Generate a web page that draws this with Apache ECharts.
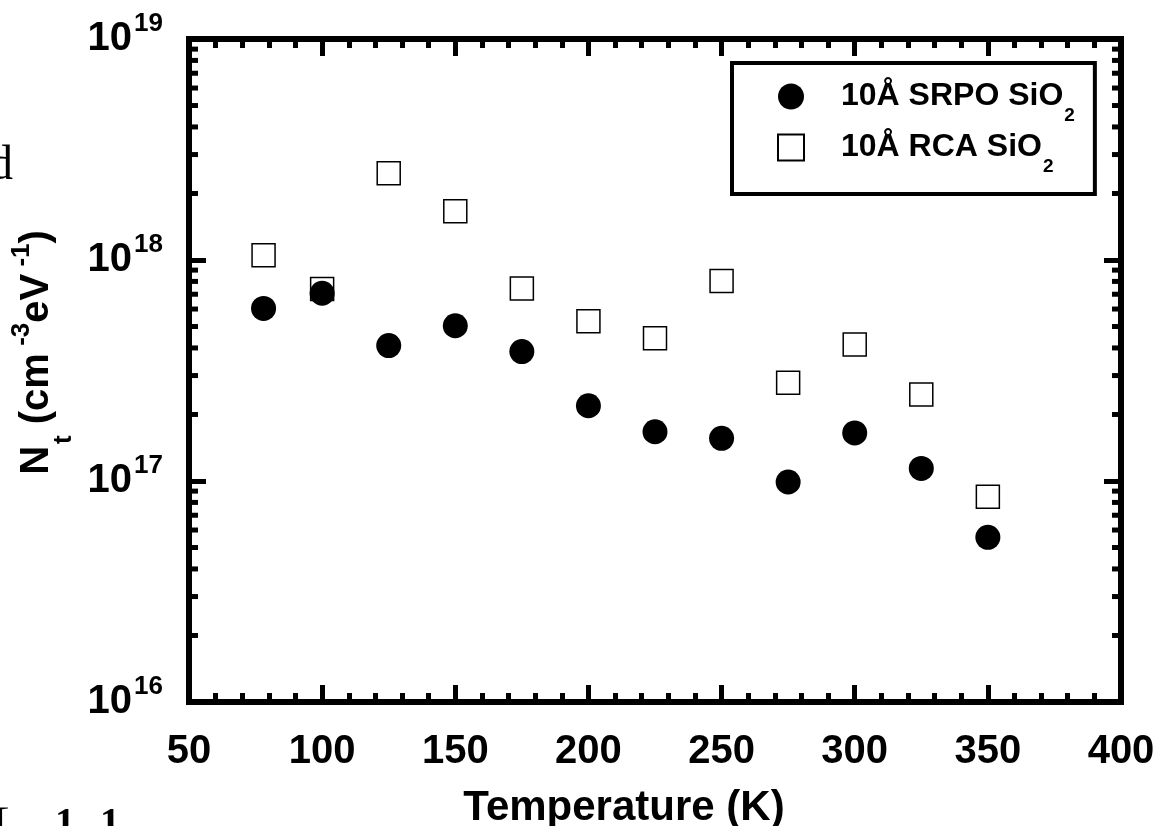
<!DOCTYPE html>
<html><head><meta charset="utf-8">
<script src="https://cdn.jsdelivr.net/npm/echarts@6/dist/echarts.min.js"></script>
<style>html,body{margin:0;padding:0;background:#fff}#c{width:1168px;height:826px}</style>
</head><body><div id="c"></div>
<script>
// ---- data ----
const temperatures = [78, 100, 125, 150, 175, 200, 225, 250, 275, 300, 325, 350];
const srpoValues = [6.04e17, 7.07e17, 4.10e17, 5.04e17, 3.85e17, 2.19e17, 1.67e17, 1.56e17, 9.9e16, 1.65e17, 1.14e17, 5.56e16];
const rcaValues = [1.05e18, 7.39e17, 2.47e18, 1.66e18, 7.44e17, 5.28e17, 4.42e17, 8.03e17, 2.78e17, 4.15e17, 2.46e17, 8.49e16];
const seriesNames = ['10Å SRPO SiO2', '10Å RCA SiO2'];
const xTickMin = 50, xTickMax = 400, xTickInterval = 50;
const yDecadeMin = 16, yDecadeMax = 19;
const minorMultipliers = [2, 3, 4, 5, 6, 7, 8, 9];
const xTitle = 'Temperature (K)';

// ---- build ----
const FONT = '"Liberation Sans", Arial, sans-serif';
const minorTickValues = [];
for (let d = yDecadeMin; d < yDecadeMax; d++) {
  minorMultipliers.forEach(m => minorTickValues.push(m * Math.pow(10, d)));
}
const zip = (xs, ys) => xs.map((x, i) => [x, ys[i]]);

const axisLineStyle = { show: true, onZero: false, lineStyle: { color: '#000', width: 6, cap: 'square' } };
const majorTick = { show: true, inside: true, length: 17, lineStyle: { color: '#000', width: 5 } };
const xMinorTick = { show: true, splitNumber: 5, length: 9, lineStyle: { color: '#000', width: 5 } };

function xAxisCfg(pos, showLabels) {
  const a = {
    type: 'value', position: pos, min: xTickMin, max: xTickMax, interval: xTickInterval,
    axisLine: axisLineStyle, axisTick: majorTick, minorTick: xMinorTick,
    splitLine: { show: false }, minorSplitLine: { show: false },
    axisLabel: { show: showLabels, fontSize: 40, fontWeight: 'bold', fontFamily: FONT, color: '#000', margin: 30 }
  };
  if (showLabels) {
    a.name = xTitle;
    a.nameLocation = 'middle';
    a.nameGap = 85;
    a.nameTextStyle = { fontSize: 42, fontWeight: 'bold', fontFamily: FONT, color: '#000', padding: [0, 62, 0, 0] };
  }
  return a;
}
function yAxisCfg(pos, showLabels) {
  const a = {
    type: 'log', logBase: 10, position: pos,
    min: Math.pow(10, yDecadeMin), max: Math.pow(10, yDecadeMax), splitNumber: 3,
    axisLine: axisLineStyle, axisTick: majorTick,
    splitLine: { show: false },
    axisLabel: {
      show: showLabels, margin: 26, color: '#000',
      formatter: v => '{b|10}{e|' + Math.round(Math.log10(v)) + '}',
      rich: {
        b: { fontSize: 40, fontWeight: 'bold', fontFamily: FONT, lineHeight: 40, color: '#000' },
        e: { fontSize: 26, fontWeight: 'bold', fontFamily: FONT, lineHeight: 26, color: '#000', padding: [0, 0, 31, 2] }
      }
    }
  };
  if (showLabels) {
    a.name = '{m|N}{sub|t}{m| (cm}{sup| -3}{m|eV}{sup| -1}{m|)}';
    a.nameLocation = 'middle';
    a.nameRotate = 90;
    a.nameGap = 100;
    a.nameTextStyle = {
      color: '#000',
      padding: [0, 0, 0, 36],
      rich: {
        m: { fontSize: 40, fontWeight: 'bold', fontFamily: FONT, lineHeight: 40, color: '#000' },
        sub: { fontSize: 26, fontWeight: 'bold', fontFamily: FONT, lineHeight: 26, color: '#000', padding: [53, 0, 0, 2] },
        sup: { fontSize: 26, fontWeight: 'bold', fontFamily: FONT, lineHeight: 26, color: '#000', padding: [0, 0, 31, 0] }
      }
    };
  }
  return a;
}

const chart = echarts.init(document.getElementById('c'), null, { renderer: 'canvas' });
chart.setOption({
  backgroundColor: '#fff',
  animation: false,
  grid: { left: 189, right: 47, top: 39, bottom: 124, containLabel: false, outerBoundsMode: 'none' },
  xAxis: [xAxisCfg('bottom', true), xAxisCfg('top', false)],
  yAxis: [yAxisCfg('left', true), yAxisCfg('right', false)],
  legend: {
    data: [seriesNames[0], seriesNames[1]],
    orient: 'vertical', left: 732, top: 63,
    padding: [5, 20, 18, 45], itemGap: -6, itemWidth: 26, itemHeight: 26,
    borderColor: '#000', borderWidth: 4, backgroundColor: '#fff',
    formatter: name => '{m|' + name.slice(0, -1) + '}{s|' + name.slice(-1) + '}',
    textStyle: {
      padding: [0, 0, 0, 32],
      rich: {
        m: { fontSize: 32, fontWeight: 'bold', fontFamily: FONT, lineHeight: 32, color: '#000' },
        s: { fontSize: 19, fontWeight: 'bold', fontFamily: FONT, lineHeight: 19, color: '#000', padding: [38, 0, 0, 1] }
      }
    }
  },
  graphic: [
    { type: 'text', style: { x: -11, y: 190, text: 'd', font: '48px "Liberation Serif", serif', fill: '#000', verticalAlign: 'bottom' } },
    { type: 'text', style: { x: -4, y: 805, text: '[', font: '40px "Liberation Serif", serif', fill: '#000', verticalAlign: 'top' } },
    { type: 'text', style: { x: 55, y: 805, text: '1', font: 'bold 40px "Liberation Serif", serif', fill: '#000', verticalAlign: 'top' } },
    { type: 'text', style: { x: 100, y: 805, text: '1', font: 'bold 40px "Liberation Serif", serif', fill: '#000', verticalAlign: 'top' } }
  ],
  series: [
    {
      type: 'custom', silent: true, clip: false, xAxisIndex: 0, yAxisIndex: 0,
      data: minorTickValues.map(v => [xTickMin, v]),
      encode: { x: 0, y: 1 },
      renderItem: (params, api) => {
        const y = api.value(1);
        const l = api.coord([xTickMin, y]);
        const r = api.coord([xTickMax, y]);
        return {
          type: 'group', children: [
            { type: 'line', shape: { x1: l[0], y1: l[1], x2: l[0] + 9, y2: l[1] }, style: { stroke: '#000', lineWidth: 5 } },
            { type: 'line', shape: { x1: r[0] - 9, y1: r[1], x2: r[0], y2: r[1] }, style: { stroke: '#000', lineWidth: 5 } }
          ]
        };
      }
    },
    {
      name: seriesNames[1], type: 'scatter', symbol: 'rect', symbolSize: 23,
      itemStyle: { color: '#fff', borderColor: '#000', borderWidth: 1.5, opacity: 1 },
      data: zip(temperatures, rcaValues), z: 3
    },
    {
      name: seriesNames[0], type: 'scatter', symbol: 'circle', symbolSize: 25,
      itemStyle: { color: '#000', opacity: 1 },
      data: zip(temperatures, srpoValues), z: 4
    }
  ]
});
</script></body></html>
